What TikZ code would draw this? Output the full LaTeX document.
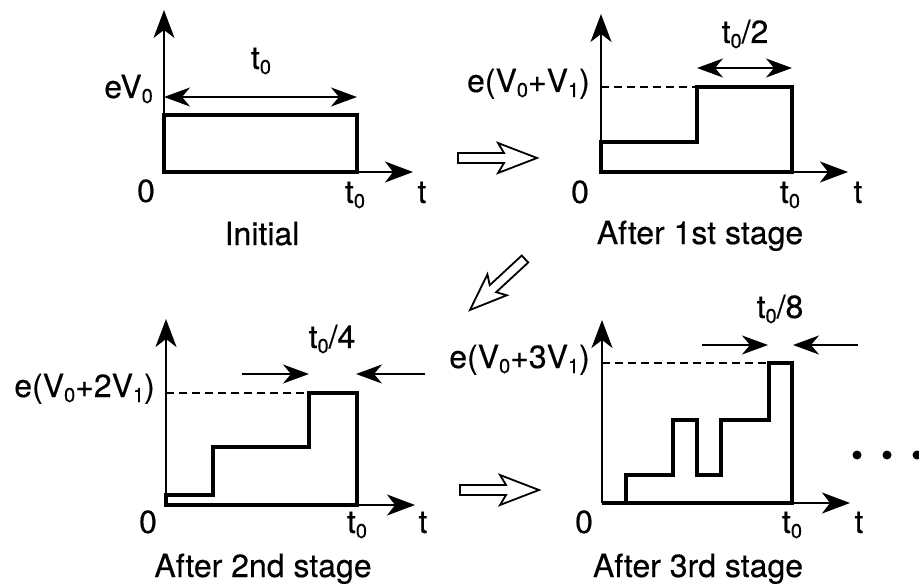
\documentclass[tikz,border=0pt]{standalone}
\usepackage{fontspec}
\setmainfont{TeX Gyre Heros}[FakeBold=0.35]
\usetikzlibrary{arrows.meta}
\newcommand\mysub[1]{\raisebox{-5pt}{\fontsize{20}{20}\selectfont #1}}
\begin{document}
\begin{tikzpicture}[x=1pt,y=-1pt,
  axisline/.style={line width=2pt,-{Stealth[length=28pt,width=21pt,inset=8pt]}},
  sig/.style={line width=3.5pt,line join=miter},
  dimline/.style={line width=1.6pt},
  dimtip/.style={-{Stealth[length=26pt,width=19pt,inset=8pt]}},
  dimboth/.style={{Stealth[length=26pt,width=19pt,inset=8pt]}-{Stealth[length=26pt,width=19pt,inset=8pt]}},
  guide/.style={line width=1.3pt,dash pattern=on 8pt off 5pt},
  lbl/.style={inner sep=0pt,font=\fontsize{32}{36}\selectfont},
  hollow/.pic={\draw[line width=1.8pt,line join=miter,fill=white]
     (0,-5)--(46,-5)--(40,-15)--(79,0)--(40,15)--(46,5)--(0,5)--cycle;}]
\useasboundingbox (0,0) rectangle (919,586);

% ---------- Panel 1: Initial ----------
\draw[sig] (164,172)--(164,115)--(357,115)--(357,172)--cycle;
\draw[axisline] (164,172)--(164,10);
\draw[axisline] (164,172)--(413,172);
\coordinate (p1a) at (164,97); \coordinate (p1b) at (357,97);
\draw[dimline,dimboth] (p1a)--(p1b);
\node[lbl,anchor=base] (p1d) at (261,69) {t\mysub{0}};
\node[lbl,anchor=base east] (p1e) at (153,98) {eV\mysub{0}};
\node[lbl,anchor=base] (p1z) at (146,202) {0};
\node[lbl,anchor=base] (p1t0) at (355,203) {t\mysub{0}};
\node[lbl,anchor=base] (p1t) at (422,203) {t};
\node[lbl,anchor=base] (p1c) at (262,245) {Initial};

% ---------- Panel 2: After 1st stage ----------
\draw[sig] (601,172)--(601,142)--(697,142)--(697,87)--(792,87)--(792,172)--cycle;
\draw[guide] (601,87)--(697,87);
\draw[axisline] (601,172)--(601,14);
\draw[axisline] (601,172)--(848,172);
\coordinate (p2a) at (697,68); \coordinate (p2b) at (792,68);
\draw[dimline,dimboth] (p2a)--(p2b);
\node[lbl,anchor=base] (p2d) at (745,43) {t\mysub{0}/2};
\node[lbl,anchor=base east] (p2e) at (590,92) {e(V\mysub{0}+V\mysub{1})};
\node[lbl,anchor=base] (p2z) at (580,203) {0};
\node[lbl,anchor=base] (p2t0) at (790,203) {t\mysub{0}};
\node[lbl,anchor=base] (p2t) at (858,203) {t};
\node[lbl,anchor=base] (p2c) at (700,244) {After 1st stage};

% ---------- Panel 3: After 2nd stage ----------
\draw[sig] (166,505)--(166,495)--(213,495)--(213,447)--(309,447)--(309,393)--(357,393)--(357,505)--cycle;
\draw[guide] (166,393)--(309,393);
\draw[axisline] (166,505)--(166,319);
\draw[axisline] (166,505)--(415,505);
\coordinate (p3a) at (242,374); \coordinate (p3b) at (309,374);
\coordinate (p3c) at (425,374); \coordinate (p3d) at (356,374);
\draw[dimline,dimtip] (p3a)--(p3b);
\draw[dimline,dimtip] (p3c)--(p3d);
\node[lbl,anchor=base] (p3l) at (332,348) {t\mysub{0}/4};
\node[lbl,anchor=base east] (p3e) at (155,397) {e(V\mysub{0}+2V\mysub{1})};
\node[lbl,anchor=base] (p3z) at (148,533) {0};
\node[lbl,anchor=base] (p3t0) at (357,533) {t\mysub{0}};
\node[lbl,anchor=base] (p3t) at (423,533) {t};
\node[lbl,anchor=base] (p3cap) at (263,577) {After 2nd stage};

% ---------- Panel 4: After 3rd stage ----------
\draw[sig] (602,503)--(626,503)--(626,475)--(673,475)--(673,420)--(697,420)--(697,475)--(721,475)--(721,420)--(769,420)--(769,363)--(792,363)--(792,503)--cycle;
\draw[guide] (602,363)--(769,363);
\draw[axisline] (602,503)--(602,320);
\draw[axisline] (602,503)--(850,503);
\coordinate (p4a) at (702,345); \coordinate (p4b) at (768,345);
\coordinate (p4c) at (858,345); \coordinate (p4d) at (793,345);
\draw[dimline,dimtip] (p4a)--(p4b);
\draw[dimline,dimtip] (p4c)--(p4d);
\node[lbl,anchor=base] (p4l) at (780,318) {t\mysub{0}/8};
\node[lbl,anchor=base east] (p4e) at (590,368) {e(V\mysub{0}+3V\mysub{1})};
\node[lbl,anchor=base] (p4z) at (584,533) {0};
\node[lbl,anchor=base] (p4t0) at (792,533) {t\mysub{0}};
\node[lbl,anchor=base] (p4t) at (859,533) {t};
\node[lbl,anchor=base] (p4cap) at (698,577) {After 3rd stage};

% dots
\fill (857,455) circle (4.5);
\fill (887,455) circle (4.5);
\fill (917,455) circle (4.5);

% ---------- hollow transition arrows ----------
\pic at (458,158) {hollow};
\pic at (460,490) {hollow};
\pic[rotate=222.8,scale=0.95] at (525,259) {hollow};
\end{tikzpicture}
\end{document}
